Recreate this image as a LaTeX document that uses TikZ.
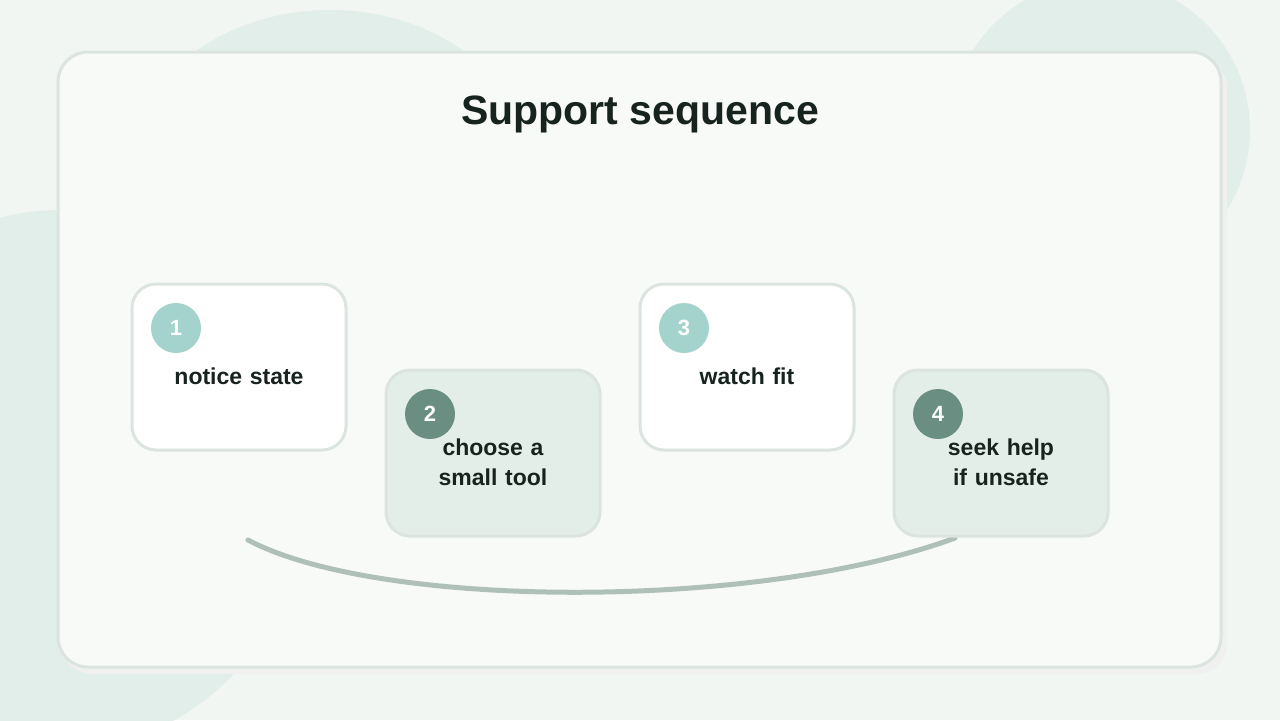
\documentclass[tikz,border=0pt]{standalone}
\usepackage{fontspec}
\setmainfont{Liberation Sans}
\definecolor{bgpage}{HTML}{F2F6F3}
\definecolor{blob}{HTML}{E2EEEA}
\definecolor{cardfill}{HTML}{F8FAF8}
\definecolor{cardline}{HTML}{DCE4DF}
\definecolor{stepgreen}{HTML}{E4EEE9}
\definecolor{lightdot}{HTML}{A3D3CC}
\definecolor{darkdot}{HTML}{6A8F82}
\definecolor{arcline}{HTML}{AFC0B8}
\definecolor{ink}{HTML}{16231E}
\tikzset{
  stepbox/.style={draw=cardline,line width=1.5pt,rounded corners=12pt,minimum width=107pt,minimum height=83pt},
  stepdot/.style={circle,minimum size=25pt,inner sep=0pt,text=white,font=\bfseries\fontsize{11}{13}\selectfont},
  steptext/.style={text=ink,font=\bfseries\fontsize{11.5}{15}\selectfont,align=center,text width=95pt}
}
\begin{document}
\begin{tikzpicture}[x=0.5pt,y=-0.5pt]
    % Background and blobs
    \fill[bgpage] (0,0) rectangle (1280,720);
    \useasboundingbox (0,0) rectangle (1280,720);
    \fill[blob] (1100,130) circle (150);
    \fill[blob] (330,170) ellipse (200 and 160);
    \fill[blob] (60,480) ellipse (250 and 270);
    % Card
    \fill[black!6,rounded corners=15pt] (62,58) rectangle (1227,674);
    \draw[cardline,line width=1.5pt,fill=cardfill,rounded corners=15pt] (58,52) rectangle (1221,667);
    \node[text=ink,font=\bfseries\fontsize{20.5}{24}\selectfont] (title) at (640,114) {Support sequence};
    % Arc behind the steps
    \coordinate (arcstart) at (248,540);
    \coordinate (arcend) at (955,538);
    \draw[arcline,line width=2.5pt,line cap=round] (arcstart) .. controls (380,610) and (760,610) .. (arcend);
    % Steps
    \node[stepbox,fill=white] (s1) at (239,367) {};
    \node[stepbox,fill=stepgreen] (s2) at (493,453) {};
    \node[stepbox,fill=white] (s3) at (747,367) {};
    \node[stepbox,fill=stepgreen] (s4) at (1001,453) {};
    \node[stepdot,fill=lightdot] (d1) at (176,328) {1};
    \node[stepdot,fill=darkdot] (d2) at (430,414) {2};
    \node[stepdot,fill=lightdot] (d3) at (684,328) {3};
    \node[stepdot,fill=darkdot] (d4) at (938,414) {4};
    \node[steptext] (t1) at (239,376) {notice state};
    \node[steptext] (t2) at (493,462) {choose a small tool};
    \node[steptext] (t3) at (747,376) {watch fit};
    \node[steptext] (t4) at (1001,462) {seek help if unsafe};
\end{tikzpicture}
\end{document}
